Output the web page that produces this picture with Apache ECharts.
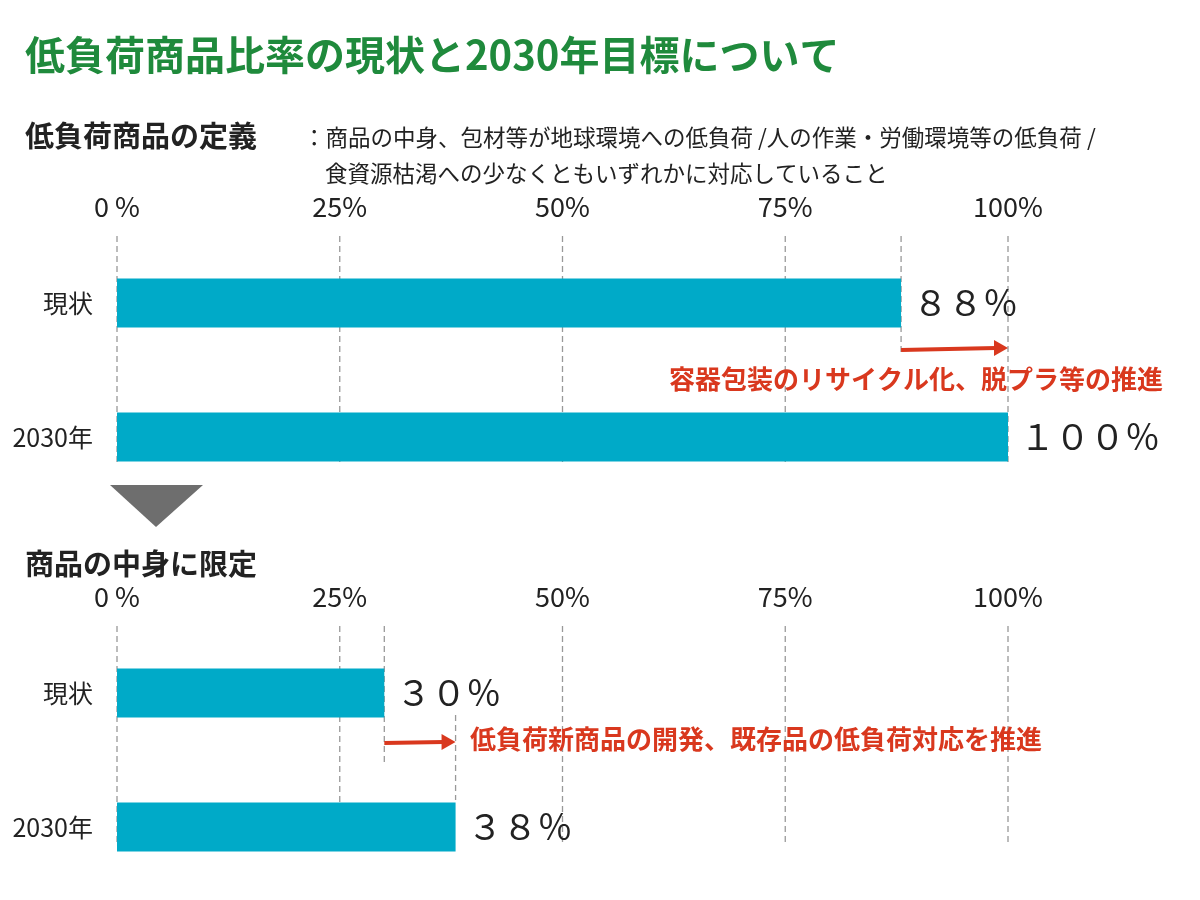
<!DOCTYPE html><html><head><meta charset="utf-8">
<script src="https://cdn.jsdelivr.net/npm/echarts@6/dist/echarts.min.js"></script>
<style>body{margin:0}#c{width:1200px;height:900px}</style></head><body><div id="c"></div>
<script>
const categories=['現状','2030年'];
const allValues=[88,100];
const contentValues=[30,38];
const valueLabels1=['８８％','１００％'];
const valueLabels2=['３０％','３８％'];
const ticks=['0 %','25%','50%','75%','100%'];
const tickValues=[0,25,50,75,100];
const F='"Noto Sans CJK JP","Noto Sans",sans-serif';
const chart=echarts.init(document.getElementById('c'));
function xAx(i){return {gridIndex:i,type:'value',min:0,max:100,interval:25,position:'top',
 axisLine:{show:false},axisTick:{show:false},
 axisLabel:{margin:16,fontSize:27,color:'#222',fontFamily:F,formatter:(v)=>ticks[v/25]},
 splitLine:{show:false}};}
function yAx(i){return {gridIndex:i,type:'category',data:categories,inverse:true,
 axisLine:{show:false},axisTick:{show:false},
 axisLabel:{fontSize:25,color:'#222',fontFamily:F,margin:24}};}
function ser(i,vals,labs){return {type:'bar',xAxisIndex:i,yAxisIndex:i,data:vals,barWidth:49,
 itemStyle:{color:'#00aac8'},
 label:{show:true,position:'right',distance:12,fontSize:35,color:'#222',fontFamily:F,
  formatter:p=>labs[p.dataIndex]}};}
chart.setOption({
 animation:false,
 title:[{text:'低負荷商品比率の現状と2030年目標について',left:20,top:30,textStyle:{fontSize:40,fontWeight:'bold',color:'#1f8a3c',fontFamily:F}},
  {text:'低負荷商品の定義',left:20,top:116,textStyle:{fontSize:29,fontWeight:'bold',color:'#222',fontFamily:F}},
  {text:'：商品の中身、包材等が地球環境への低負荷 /人の作業・労働環境等の低負荷 /',left:298,top:121,textStyle:{fontSize:22.5,fontWeight:'normal',color:'#222',fontFamily:F}},
  {text:'食資源枯渇への少なくともいずれかに対応していること',left:320,top:157,textStyle:{fontSize:22.5,fontWeight:'normal',color:'#222',fontFamily:F}},
  {text:'商品の中身に限定',left:20,top:544,textStyle:{fontSize:29,fontWeight:'bold',color:'#222',fontFamily:F}}],
 grid:[{left:117,width:891,top:236,height:268},{left:117,width:891,top:626,height:268}],
 xAxis:[xAx(0),xAx(1)],yAxis:[yAx(0),yAx(1)],
 series:[ser(0,allValues,valueLabels1),ser(1,contentValues,valueLabels2)]
});
function px(g,v,c){return chart.convertToPixel({gridIndex:g},[v,c]);}
const p88=px(0,allValues[0],categories[0]), p100=px(0,allValues[1],categories[0]);
const p30=px(1,contentValues[0],categories[0]), p38=px(1,contentValues[1],categories[0]);
const red='#d9381e';
const dash={stroke:'#999',lineWidth:1.3,lineDash:[6,4]};
const grid=[];
tickValues.forEach(v=>{
 const a=px(0,v,categories[0])[0]; grid.push({type:'line',z:-1,shape:{x1:a,y1:236,x2:a,y2:466},style:dash});
 const b=px(1,v,categories[0])[0]; grid.push({type:'line',z:-1,shape:{x1:b,y1:626,x2:b,y2:842},style:dash});
});
chart.setOption({graphic:grid.concat([
 {type:'line',shape:{x1:p88[0],y1:236,x2:p88[0],y2:355},style:dash},
 {type:'line',shape:{x1:p88[0],y1:350,x2:p100[0]-12,y2:348},style:{stroke:red,lineWidth:4}},
 {type:'polygon',shape:{points:[[p100[0]-14,340],[p100[0],348],[p100[0]-14,356]]},style:{fill:red}},
 {type:'text',right:37,top:366,style:{text:'容器包装のリサイクル化、脱プラ等の推進',fontSize:26,fontWeight:'bold',fill:red,fontFamily:F}},
 {type:'line',shape:{x1:p30[0],y1:626,x2:p30[0],y2:765},style:dash},
 {type:'line',shape:{x1:p38[0],y1:715,x2:p38[0],y2:800},style:dash},
 {type:'line',shape:{x1:p30[0],y1:743,x2:p38[0]-12,y2:742},style:{stroke:red,lineWidth:4}},
 {type:'polygon',shape:{points:[[p38[0]-14,734],[p38[0],742],[p38[0]-14,750]]},style:{fill:red}},
 {type:'text',left:470,top:726,style:{text:'低負荷新商品の開発、既存品の低負荷対応を推進',fontSize:26,fontWeight:'bold',fill:red,fontFamily:F}},
 {type:'polygon',shape:{points:[[110,485],[203,485],[156,527]]},style:{fill:'#6e6e6e'}}
])});
</script></body></html>
